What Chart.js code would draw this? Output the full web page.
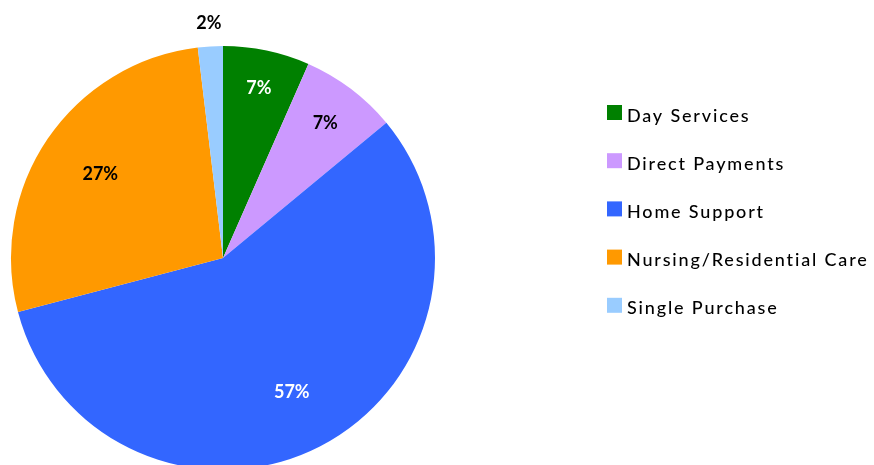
<!DOCTYPE html>
<html lang="en">
<head>
    <meta charset="UTF-8">
    <title>Care spend by service</title>
    <script src="https://cdn.jsdelivr.net/npm/chart.js@4.4.0/dist/chart.umd.min.js"></script>
    <style>
        html, body { margin: 0; padding: 0; background: #fff; overflow: hidden; }
        #wrap { width: 874px; height: 465px; overflow: hidden; }
    </style>
</head>
<body>
<div id="wrap">
    <canvas id="pie" width="874" height="480"></canvas>
</div>
<script>
// slices, clockwise from 12 o'clock
const services = ['Day Services', 'Direct Payments', 'Home Support', 'Nursing/Residential Care', 'Single Purchase'];
const shares = [6.6, 7.4, 56.9, 27.2, 1.9];
const pctLabels = ['7%', '7%', '57%', '27%', '2%'];
const sliceColors = ['#008000', '#CC99FF', '#3366FF', '#FF9900', '#99CCFF'];
const labelColors = ['#ffffff', '#000000', '#ffffff', '#000000', '#000000'];
// how far out each percentage sits, as a fraction of the radius
const labelRadius = [0.82, 0.80, 0.71, 0.70, 1.11];

const pctPlugin = {
    id: 'pctLabels',
    afterDatasetsDraw(chart) {
        const ctx = chart.ctx;
        const arcs = chart.getDatasetMeta(0).data;
        ctx.save();
        ctx.font = 'bold 18px Lato';
        ctx.textAlign = 'center';
        ctx.textBaseline = 'middle';
        arcs.forEach((arc, i) => {
            const mid = (arc.startAngle + arc.endAngle) / 2;
            const r = arc.outerRadius * labelRadius[i];
            ctx.fillStyle = labelColors[i];
            ctx.fillText(pctLabels[i], arc.x + Math.cos(mid) * r, arc.y + Math.sin(mid) * r);
        });
        ctx.restore();
    }
};

const legendPlugin = {
    id: 'sideLegend',
    afterDraw(chart) {
        const ctx = chart.ctx;
        const labels = chart.data.labels;
        const colors = chart.data.datasets[0].backgroundColor;
        ctx.save();
        ctx.font = '500 18px Lato';
        ctx.letterSpacing = '0px';
        const longest = labels[3];
        const w = ctx.measureText(longest).width;
        const spacing = Math.max(0, (242 - w) / longest.length);
        ctx.letterSpacing = spacing.toFixed(2) + 'px';
        ctx.textBaseline = 'alphabetic';
        labels.forEach((lab, i) => {
            const top = 105 + i * 48.2;
            ctx.fillStyle = colors[i];
            ctx.fillRect(607, top, 15, 15);
            ctx.fillStyle = '#000';
            ctx.fillText(lab, 627, top + 16.5);
        });
        ctx.restore();
    }
};

new Chart(document.getElementById('pie'), {
    type: 'pie',
    data: {
        labels: services,
        datasets: [{
            data: shares,
            backgroundColor: sliceColors,
            borderWidth: 0
        }]
    },
    options: {
        responsive: false,
        animation: false,
        layout: { padding: { left: 11, top: 46, right: 439, bottom: 10 } },
        plugins: {
            legend: { display: false },
            tooltip: { enabled: false }
        }
    },
    plugins: [pctPlugin, legendPlugin]
});
</script>
</body>
</html>
